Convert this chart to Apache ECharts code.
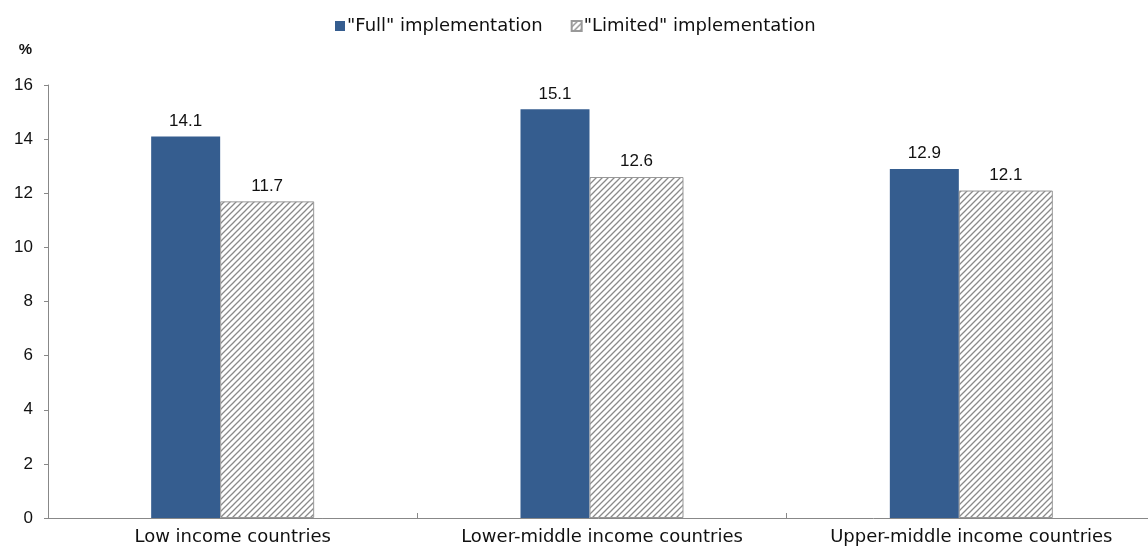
<!DOCTYPE html>
<html lang="en">
<head>
    <meta charset="UTF-8">
    <title>Full vs Limited implementation</title>
    <script src="https://cdn.jsdelivr.net/npm/echarts@6/dist/echarts.min.js"></script>
    <style>
        body, html {
            margin: 0;
            padding: 0;
            width: 100%;
            height: 100%;
            background: #fff;
        }
        #chart {
            width: 1148px;
            height: 547px;
        }
    </style>
</head>
<body>
    <div id="chart"></div>
    <script>
        // data
        var categories = ['Low income countries', 'Lower-middle income countries', 'Upper-middle income countries'];
        var fullValues = [14.1, 15.1, 12.9];
        var limitedValues = [11.7, 12.6, 12.1];
        var yTicks = { min: 0, max: 16, interval: 2 };

        // diagonal hatch pattern for the "Limited" bars
        var hatch = document.createElement('canvas');
        hatch.width = 6;
        hatch.height = 6;
        var ctx = hatch.getContext('2d');
        ctx.fillStyle = '#fff';
        ctx.fillRect(0, 0, 6, 6);
        ctx.strokeStyle = '#8a8a8a';
        ctx.lineWidth = 1.3;
        ctx.beginPath();
        ctx.moveTo(0, 6); ctx.lineTo(6, 0);
        ctx.moveTo(-3, 3); ctx.lineTo(3, -3);
        ctx.moveTo(3, 9); ctx.lineTo(9, 3);
        ctx.stroke();

        var wideFont = 'DejaVu Sans, Verdana, sans-serif';

        var labelStyle = {
            show: true,
            position: 'top',
            distance: 7,
            fontFamily: 'Liberation Sans, Arial, sans-serif',
            fontSize: 17,
            color: '#111'
        };

        var option = {
            backgroundColor: '#fff',
            animation: false,
            textStyle: { fontFamily: 'Liberation Sans, Arial, sans-serif' },
            legend: {
                top: 12,
                left: 330,
                itemWidth: 10,
                itemHeight: 10,
                itemGap: 28,
                icon: 'rect',
                textStyle: { fontFamily: wideFont, fontSize: 18, color: '#111', padding: [0, 0, 0, -3] },
                data: ['"Full" implementation', '"Limited" implementation']
            },
            // plot runs a little past the right edge of the picture
            grid: { left: 48, top: 85, bottom: 29, width: 1108, outerBoundsMode: 'none', containLabel: false },
            xAxis: {
                type: 'category',
                data: categories,
                axisLine: { lineStyle: { color: '#888' } },
                axisTick: { show: true, inside: true, length: 5, lineStyle: { color: '#888' } },
                axisLabel: { fontFamily: wideFont, fontSize: 18, color: '#111', margin: 10 }
            },
            yAxis: {
                type: 'value',
                min: yTicks.min,
                max: yTicks.max,
                interval: yTicks.interval,
                name: '%',
                nameLocation: 'end',
                nameGap: 28,
                nameTextStyle: { fontSize: 15, color: '#111', fontWeight: 'bold', align: 'right', padding: [0, 16, 0, 0] },
                axisLine: { show: true, lineStyle: { color: '#888' } },
                axisTick: { show: true, length: 4, lineStyle: { color: '#888' } },
                axisLabel: { fontSize: 17, color: '#111', margin: 15 },
                splitLine: { show: false }
            },
            series: [
                {
                    name: '"Full" implementation',
                    type: 'bar',
                    data: fullValues,
                    barWidth: 69,
                    barGap: '0%',
                    itemStyle: { color: '#355d8f' },
                    label: labelStyle
                },
                {
                    name: '"Limited" implementation',
                    type: 'bar',
                    data: limitedValues,
                    barWidth: 94,
                    barGap: '0%',
                    itemStyle: {
                        color: { image: hatch, repeat: 'repeat' },
                        borderColor: '#999',
                        borderWidth: 1
                    },
                    label: labelStyle
                }
            ]
        };

        var chart = echarts.init(document.getElementById('chart'));
        chart.setOption(option);
    </script>
</body>
</html>
